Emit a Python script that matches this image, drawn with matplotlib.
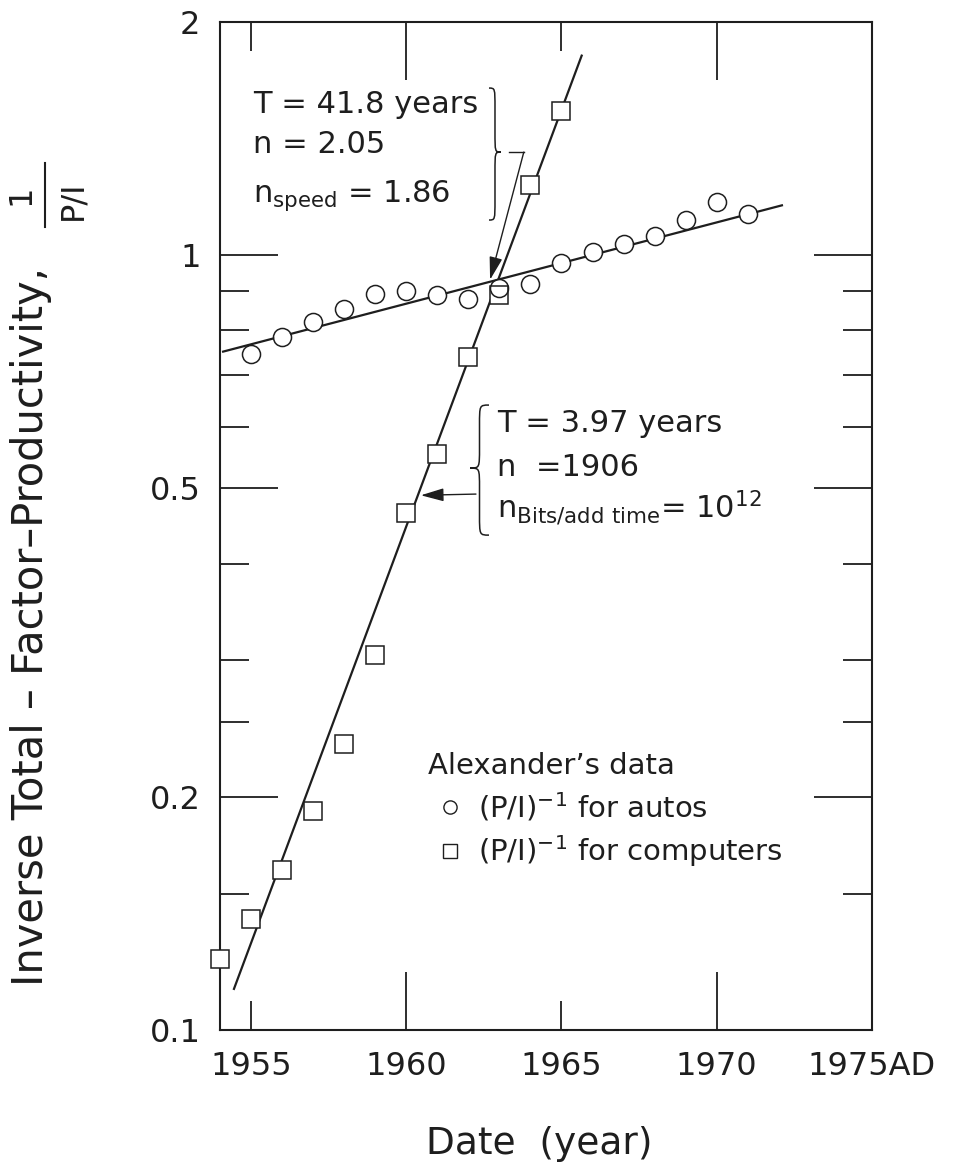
import matplotlib
matplotlib.use('Agg')
import matplotlib.pyplot as plt
from matplotlib.path import Path
from matplotlib.patches import PathPatch
from matplotlib.lines import Line2D
from matplotlib.ticker import NullFormatter

plt.rcParams['font.family'] = ['DejaVu Sans']
plt.rcParams['mathtext.fontset'] = 'dejavusans'

# Alexander's data
autos_years = [1955, 1956, 1957, 1958, 1959, 1960, 1961, 1962, 1963,
               1964, 1965, 1966, 1967, 1968, 1969, 1970, 1971]
autos_vals = [0.745, 0.785, 0.82, 0.853, 0.89, 0.90, 0.889, 0.877, 0.907,
              0.918, 0.977, 1.01, 1.035, 1.06, 1.11, 1.17, 1.13]

comp_years = [1954, 1955, 1956, 1957, 1958, 1959, 1960, 1961, 1962,
              1963, 1964, 1965]
comp_vals = [0.1235, 0.139, 0.161, 0.192, 0.234, 0.305, 0.465, 0.554,
             0.738, 0.889, 1.231, 1.536]

# fitted lines (end points)
autos_fit_years = [1954.1, 1972.1]
autos_fit_vals = [0.751, 1.16]
comp_fit_years = [1954.45, 1965.65]
comp_fit_vals = [0.113, 1.81]

ytick_vals = [0.1, 0.2, 0.5, 1, 2]
ytick_labels = ['0.1', '0.2', '0.5', '1', '2']
yminor_vals = [0.15, 0.25, 0.3, 0.4, 0.6, 0.7, 0.8, 0.9]
xmajor_vals = [1960, 1970]
xmajor_labels = ['1960', '1970']
xminor_vals = [1955, 1965, 1975]
xminor_labels = ['1955', '1965', '1975AD']

# arrow targets (where the fits are annotated)
autos_arrow_tip = (1962.7, 0.93)
comp_arrow_tip = (1960.47, 0.49)

INK = '#1e1e1e'


def brace(ax, x0, tip_x, y_bot, y_top, y_mid, q, lw=1.1):
    # curly brace in axes coords, tip pointing towards tip_x
    xm = (x0 + tip_x) / 2
    verts = [(x0, y_top),
             (xm, y_top), (xm, y_top), (xm, y_top - q),
             (xm, y_mid + q),
             (xm, y_mid), (xm, y_mid), (tip_x, y_mid),
             (xm, y_mid), (xm, y_mid), (xm, y_mid - q),
             (xm, y_bot + q),
             (xm, y_bot), (xm, y_bot), (x0, y_bot)]
    codes = [Path.MOVETO,
             Path.CURVE4, Path.CURVE4, Path.CURVE4,
             Path.LINETO,
             Path.CURVE4, Path.CURVE4, Path.CURVE4,
             Path.CURVE4, Path.CURVE4, Path.CURVE4,
             Path.LINETO,
             Path.CURVE4, Path.CURVE4, Path.CURVE4]
    ax.add_patch(PathPatch(Path(verts, codes), fc='none', ec=INK, lw=lw,
                           transform=ax.transAxes, clip_on=False))


fig = plt.figure(figsize=(9.54, 11.73), dpi=100)
ax = fig.add_axes([0.2306, 0.1219, 0.6834, 0.8593])

ax.plot(autos_fit_years, autos_fit_vals, color=INK, lw=1.6, zorder=2)
ax.plot(comp_fit_years, comp_fit_vals, color=INK, lw=1.6, zorder=2)
ax.plot(comp_years, comp_vals, ls='none', marker='s', ms=13,
        mfc='white', mec=INK, mew=1.1, zorder=3, clip_on=False)
ax.plot(autos_years, autos_vals, ls='none', marker='o', ms=13,
        mfc='none', mec=INK, mew=1.1, zorder=4, clip_on=False)
ax.plot(autos_years, autos_vals, ls='none', marker='o', ms=12,
        mfc='white', mec='none', zorder=2.5, clip_on=False)

ax.set_yscale('log')
ax.set_xlim(1954, 1975)
ax.set_ylim(0.1, 2)

ax.set_yticks(ytick_vals, labels=ytick_labels)
ax.set_yticks(yminor_vals, minor=True)
ax.yaxis.set_minor_formatter(NullFormatter())
ax.set_xticks(xmajor_vals, labels=xmajor_labels)
ax.set_xticks(xminor_vals, labels=xminor_labels, minor=True)

ax.tick_params(which='both', direction='in', top=True, right=True,
               width=1.3, colors=INK, labelsize=23)
ax.tick_params(which='major', length=42, pad=14)
ax.tick_params(which='minor', length=21, pad=14)
ax.xaxis.set_tick_params(which='both', pad=15)

for s in ax.spines.values():
    s.set_linewidth(1.5)
    s.set_color(INK)

ax.set_xlabel('Date  (year)', fontsize=27, color=INK)
ax.xaxis.label.set_va('center')
ax.xaxis.set_label_coords(0.489, -0.113)

ax.set_ylabel('Inverse Total \u2013 Factor\u2013Productivity,', fontsize=30,
              color=INK)
ax.yaxis.label.set_va('baseline')
ax.yaxis.set_label_coords(-0.2715, 0.4008)

# 1 / (P/I) written sideways above the y label
fig.text(21 / 954, 1 - 195 / 1173, '1', rotation=90, fontsize=23,
         ha='center', va='center', color=INK)
fig.text(73 / 954, 1 - 200 / 1173, 'P/I', rotation=90, fontsize=23,
         ha='center', va='center', color=INK)
fig.add_artist(Line2D([45 / 954, 45 / 954], [1 - 163 / 1173, 1 - 227 / 1173],
                      transform=fig.transFigure, color=INK, lw=1.5))

# annotation for the autos fit
ann_kw = dict(transform=ax.transAxes, fontsize=22, va='baseline',
              ha='left', color=INK)
ax.text(0.0506, 0.9097, 'T = 41.8 years', **ann_kw)
ax.text(0.0506, 0.870, 'n = 2.05', **ann_kw)
ax.text(0.0506, 0.8214, r'n$_{\mathrm{speed}}$ = 1.86', **ann_kw)
brace(ax, 0.4126, 0.4310, 0.8036, 0.9345, 0.871, 0.02)
ax.plot([0.443, 0.466], [0.871, 0.871], color=INK, lw=1.0,
        transform=ax.transAxes, clip_on=False)
ax.annotate('', xy=autos_arrow_tip, xycoords='data',
            xytext=(0.466, 0.871), textcoords='axes fraction',
            arrowprops=dict(arrowstyle='-|>,head_length=0.7,head_width=0.2',
                            color=INK, lw=1.0, shrinkA=0, shrinkB=0,
                            mutation_scale=20))

# annotation for the computers fit
ax.text(0.4248, 0.5933, 'T = 3.97 years', **ann_kw)
ax.text(0.4248, 0.5496, 'n  =1906', **ann_kw)
ax.text(0.4248, 0.5079, r'n$_{\mathrm{Bits/add\ time}}$= 10$^{12}$', **ann_kw)
brace(ax, 0.4126, 0.3835, 0.491, 0.62, 0.5575, 0.02)
ax.annotate('', xy=comp_arrow_tip, xycoords='data',
            xytext=(0.3926, 0.5317), textcoords='axes fraction',
            arrowprops=dict(arrowstyle='-|>,head_length=0.7,head_width=0.2',
                            color=INK, lw=1.0, shrinkA=0, shrinkB=0,
                            mutation_scale=20))

handles = [Line2D([], [], ls='none', marker='o', ms=9.5, mfc='white',
                  mec=INK, mew=1.0),
           Line2D([], [], ls='none', marker='s', ms=9.5, mfc='white',
                  mec=INK, mew=1.0)]
labels = [r'$(\mathrm{P/I})^{-1}$ for autos',
          r'$(\mathrm{P/I})^{-1}$ for computers']
leg = ax.legend(handles, labels, title='Alexander\u2019s data', loc='upper left',
                bbox_to_anchor=(0.319, 0.2758), frameon=False,
                alignment='left', handlelength=1.5, handletextpad=0.2,
                borderpad=0, borderaxespad=0, fontsize=21, title_fontsize=21,
                labelspacing=0.35, labelcolor=INK)
leg.get_title().set_color(INK)

fig.savefig('out.png', dpi=100)
